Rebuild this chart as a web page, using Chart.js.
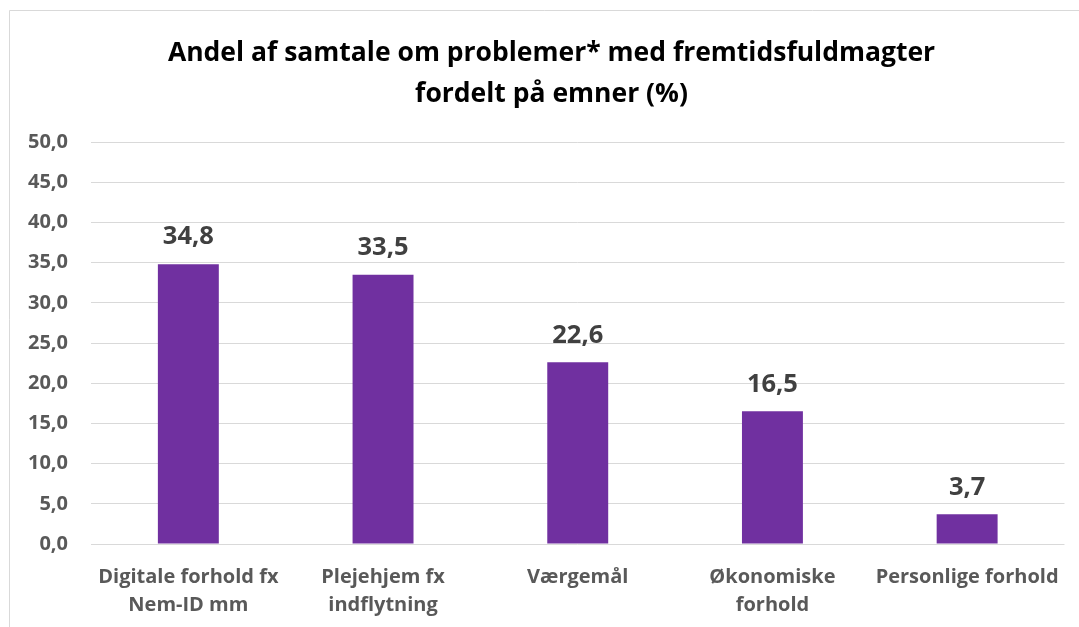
<!DOCTYPE html>
<html>
<head>
<meta charset="utf-8">
<script src="https://cdn.jsdelivr.net/npm/chart.js@4"></script>
<style>
html,body{margin:0;padding:0;background:#fff;}
#wrap{width:1079px;height:627px;position:relative;}
</style>
</head>
<body>
<div id="wrap"><canvas id="c" width="1079" height="627"></canvas></div>
<script>
const titleLines = ['Andel af samtale om problemer* med fremtidsfuldmagter', 'fordelt på emner (%)'];
const categories = [
  ['Digitale forhold fx', 'Nem-ID mm'],
  ['Plejehjem fx', 'indflytning'],
  ['Værgemål'],
  ['Økonomiske', 'forhold'],
  ['Personlige forhold']
];
const values = [34.8, 33.5, 22.6, 16.5, 3.7];
const yTicks = [0, 5, 10, 15, 20, 25, 30, 35, 40, 45, 50];

const FONT = '"Open Sans", Lato, sans-serif';
const fmt = v => v.toFixed(1).replace('.', ',');

const borderPlugin = {
  id: 'outerBorder',
  beforeDraw(chart) {
    const ctx = chart.ctx;
    ctx.save();
    ctx.fillStyle = '#fff';
    ctx.fillRect(0, 0, chart.width, chart.height);
    ctx.strokeStyle = '#D9D9D9';
    ctx.lineWidth = 1;
    ctx.beginPath();
    ctx.moveTo(9.5, chart.height + 5);
    ctx.lineTo(9.5, 10.5);
    ctx.lineTo(chart.width + 5, 10.5);
    ctx.stroke();
    ctx.restore();
  }
};

const titlePlugin = {
  id: 'titleText',
  afterDraw(chart) {
    const ctx = chart.ctx;
    ctx.save();
    ctx.font = 'bold 26.5px ' + FONT;
    ctx.fillStyle = '#000';
    ctx.textAlign = 'center';
    ctx.textBaseline = 'middle';
    const cx = 551.5;
    titleLines.forEach((t, i) => ctx.fillText(t, cx, 53 + i * 41));
    ctx.restore();
  }
};

const labelPlugin = {
  id: 'valueLabels',
  afterDatasetsDraw(chart) {
    const ctx = chart.ctx;
    const meta = chart.getDatasetMeta(0);
    ctx.save();
    ctx.font = 'bold 25.5px ' + FONT;
    ctx.fillStyle = '#404040';
    ctx.textAlign = 'center';
    ctx.textBaseline = 'middle';
    meta.data.forEach((bar, i) => {
      ctx.fillText(fmt(values[i]), bar.x, bar.y - 27);
    });
    ctx.restore();
  }
};

new Chart(document.getElementById('c'), {
  type: 'bar',
  data: {
    labels: categories,
    datasets: [{
      data: values,
      backgroundColor: '#7030A0',
      categoryPercentage: 1,
      barPercentage: 0.313
    }]
  },
  options: {
    responsive: false,
    animation: false,
    layout: { padding: { top: 142, left: 9, right: 14, bottom: 0 } },
    plugins: {
      legend: { display: false },
      tooltip: { enabled: false },
      title: { display: false }
    },
    scales: {
      x: {
        grid: { display: false, drawTicks: false },
        border: { display: false },
        ticks: {
          color: '#595959',
          font: { family: FONT, size: 20, weight: 'bold', lineHeight: 28 / 20 },
          padding: 19,
          maxRotation: 0,
          autoSkip: false
        },
        afterFit(scale) { scale.height = 627 - 544; }
      },
      y: {
        min: 0,
        max: 50,
        afterBuildTicks(scale) { scale.ticks = yTicks.map(v => ({ value: v })); },
        grid: { color: '#D9D9D9', lineWidth: 1, drawTicks: false },
        border: { display: false },
        ticks: {
          color: '#595959',
          font: { family: FONT, size: 20, weight: 'bold' },
          padding: 23,
          callback: v => fmt(v)
        },
        afterFit(scale) { scale.width = 82; }
      }
    }
  },
  plugins: [borderPlugin, titlePlugin, labelPlugin]
});
</script>
</body>
</html>
